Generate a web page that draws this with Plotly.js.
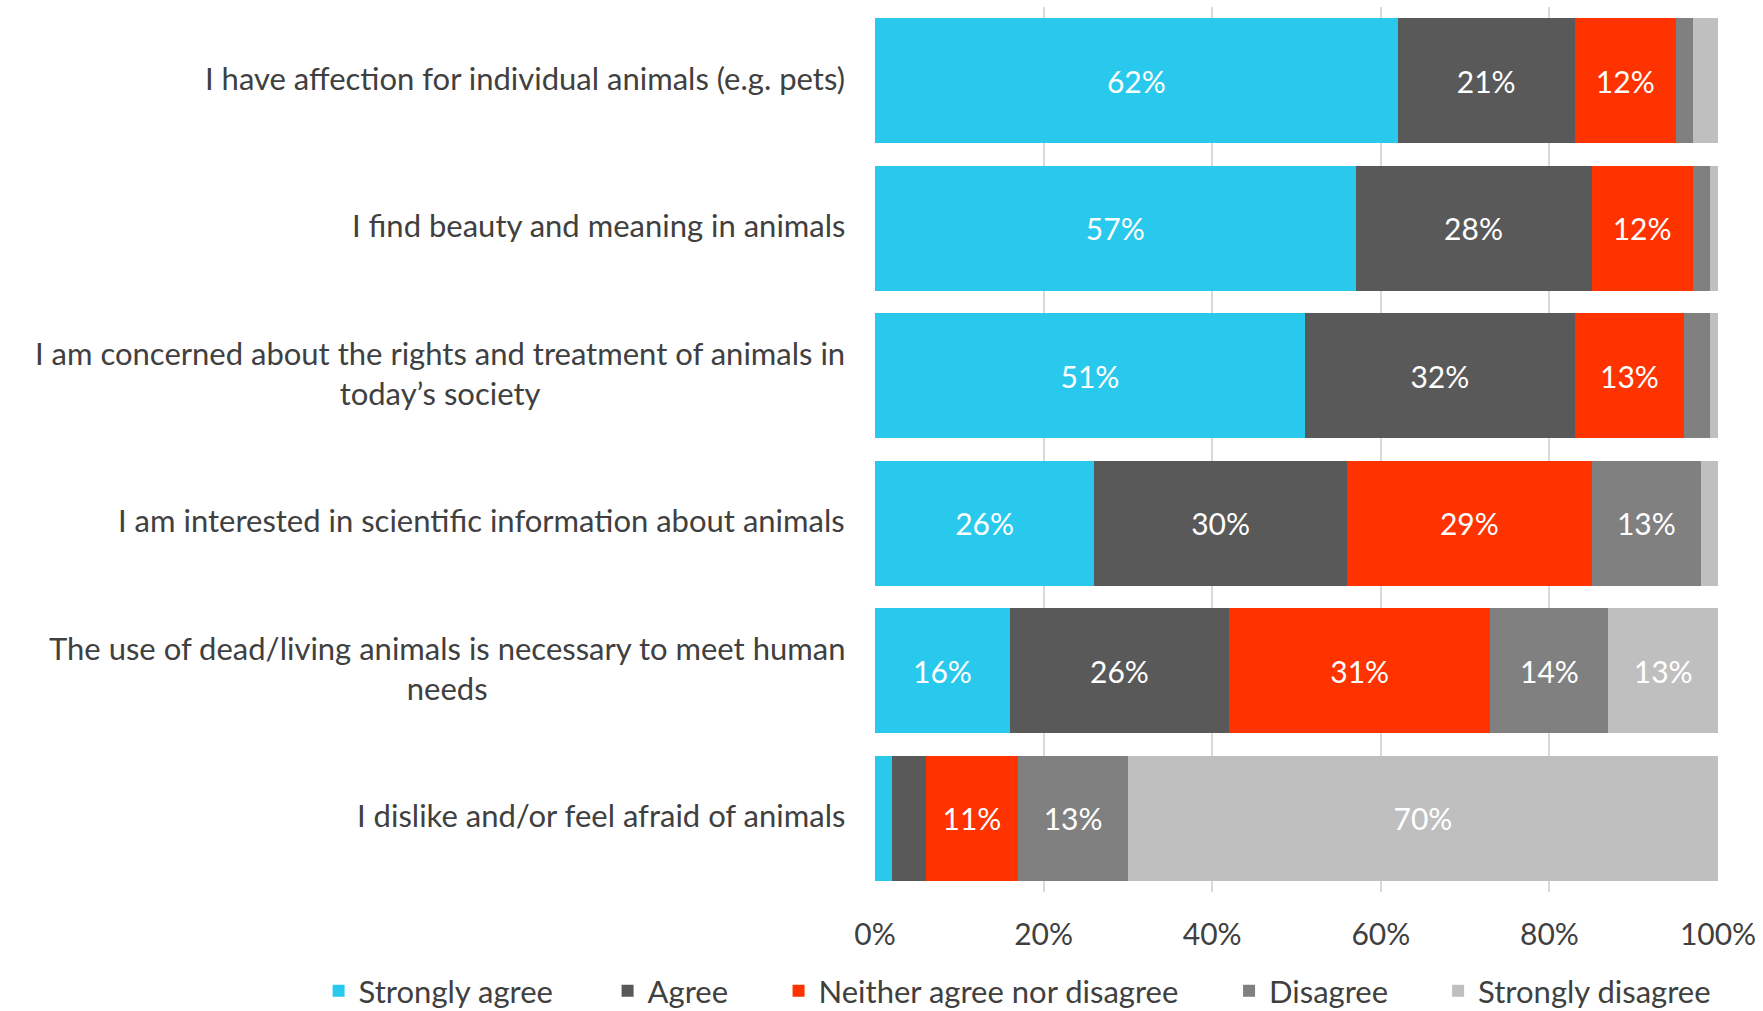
<!DOCTYPE html>
<html>
<head>
<meta charset="utf-8">
<script src="https://cdn.plot.ly/plotly-3.0.1.min.js"></script>
<style>html,body{margin:0;padding:0;background:#fff;}#chart{width:1763px;height:1011px;}</style>
</head>
<body>
<div id="chart"></div>
<script>
const categories = [
  "I have affection for individual animals (e.g. pets)",
  "I find beauty and meaning in animals",
  "I am concerned about the rights and treatment of animals in<br>today’s society",
  "I am interested in scientific information about animals",
  "The use of dead/living animals is necessary to meet human<br>needs",
  "I dislike and/or feel afraid of animals"
];
const seriesNames = ["Strongly agree", "Agree", "Neither agree nor disagree", "Disagree", "Strongly disagree"];
const stronglyAgree = [62, 57, 51, 26, 16, 2];
const agree = [21, 28, 32, 30, 26, 4];
const neither = [12, 12, 13, 29, 31, 11];
const disagree = [2, 2, 3, 13, 14, 13];
const stronglyDisagree = [3, 1, 1, 2, 13, 70];
const tickLabels = ["0%", "20%", "40%", "60%", "80%", "100%"];
const tickValues = [0, 20, 40, 60, 80, 100];

const seriesValues = [stronglyAgree, agree, neither, disagree, stronglyDisagree];
const colors = ["#29C9EE", "#595959", "#FF3300", "#808080", "#BFBFBF"];
const legendX = [-0.660, -0.3172, -0.1144, 0.4200, 0.6680];
const FONT = "Lato, 'Open Sans', sans-serif";
const legendIds = ["legend", "legend2", "legend3", "legend4", "legend5"];

const traces = seriesValues.map((vals, i) => ({
  type: "bar",
  orientation: "h",
  name: seriesNames[i],
  legend: legendIds[i],
  y: categories,
  x: vals,
  marker: {color: colors[i], line: {width: 0}},
  text: vals.map(v => v >= 10 ? v + "%" : ""),
  textposition: "inside",
  insidetextanchor: "middle",
  textfont: {color: "#ffffff", size: 30, family: FONT},
  hoverinfo: "x+name"
}));

const annotations = categories.map(c => ({
  xref: "paper", yref: "y",
  x: 0, y: c,
  xanchor: "right", yanchor: "middle",
  xshift: -28, yshift: 3,
  text: c,
  align: "center",
  showarrow: false,
  font: {size: 31, color: "#404040", family: FONT}
}));

const layout = {
  width: 1763, height: 1011,
  margin: {l: 875, r: 45, t: 7, b: 119, autoexpand: false},
  barmode: "stack",
  bargap: 0.155,
  paper_bgcolor: "#ffffff",
  plot_bgcolor: "#ffffff",
  font: {family: FONT, color: "#404040", size: 30},
  xaxis: {
    range: [0, 100],
    tickvals: tickValues,
    ticktext: tickLabels,
    showgrid: true,
    gridcolor: "#D9D9D9",
    gridwidth: 2,
    zeroline: false,
    showline: false,
    ticks: "",
    ticklabelstandoff: 22,
    tickfont: {size: 30, color: "#404040", family: FONT},
    fixedrange: true
  },
  yaxis: {
    autorange: "reversed",
    showticklabels: false,
    showgrid: false,
    zeroline: false,
    showline: false,
    ticks: "",
    fixedrange: true
  },
  annotations: annotations,
  showlegend: true
};

legendIds.forEach((id, i) => {
  layout[id] = {
    orientation: "h",
    xref: "paper", yref: "paper",
    x: legendX[i], xanchor: "left",
    y: -0.112, yanchor: "middle",
    font: {size: 31, color: "#404040", family: FONT},
    itemwidth: 30,
    bgcolor: "rgba(0,0,0,0)"
  };
});

Plotly.newPlot("chart", traces, layout, {displayModeBar: false, staticPlot: true});
</script>
</body>
</html>
